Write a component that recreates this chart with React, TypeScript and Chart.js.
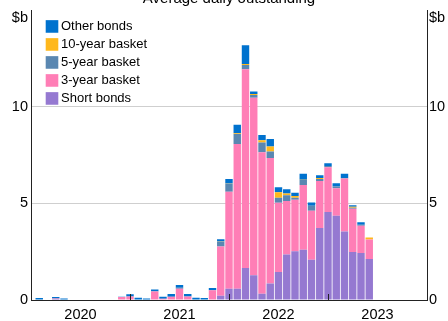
import React, { useEffect, useRef } from 'react';
import { Chart, registerables } from 'chart.js';

Chart.register(...registerables);

// Monthly observations, Jan 2020 – Jun 2023
const months = [
  'Jan 2020', 'Feb 2020', 'Mar 2020', 'Apr 2020', 'May 2020', 'Jun 2020',
  'Jul 2020', 'Aug 2020', 'Sep 2020', 'Oct 2020', 'Nov 2020', 'Dec 2020',
  'Jan 2021', 'Feb 2021', 'Mar 2021', 'Apr 2021', 'May 2021', 'Jun 2021',
  'Jul 2021', 'Aug 2021', 'Sep 2021', 'Oct 2021', 'Nov 2021', 'Dec 2021',
  'Jan 2022', 'Feb 2022', 'Mar 2022', 'Apr 2022', 'May 2022', 'Jun 2022',
  'Jul 2022', 'Aug 2022', 'Sep 2022', 'Oct 2022', 'Nov 2022', 'Dec 2022',
  'Jan 2023', 'Feb 2023', 'Mar 2023', 'Apr 2023', 'May 2023', 'Jun 2023',
];

const yearLabels = ['2020', '2021', '2022', '2023'];
const yTickValues = [0, 5, 10];

const shortBonds = [
  0, 0, 0.02, 0.05, 0, 0, 0, 0, 0, 0, 0, 0,
  0.03, 0.02, 0, 0, 0.02, 0.02, 0.03, 0, 0.02, 0, 0, 0.22,
  0.58, 0.58, 1.66, 1.28, 0.32, 0.86, 1.45, 2.36, 2.53, 2.6, 2.09, 3.73,
  4.55, 4.36, 3.54, 2.48, 2.43, 2.12,
];
const threeYearBasket = [
  0, 0, 0, 0.03, 0, 0, 0, 0, 0, 0, 0, 0.15,
  0.15, 0, 0, 0.44, 0.05, 0.15, 0.55, 0.18, 0, 0, 0.5, 2.55,
  5.03, 7.49, 10.29, 9.19, 7.33, 6.49, 3.58, 2.77, 2.66, 3.35, 2.53, 2.43,
  2.32, 1.42, 2.75, 2.25, 1.42, 1.01,
];
const fiveYearBasket = [
  0, 0, 0, 0, 0, 0, 0, 0, 0, 0, 0, 0,
  0, 0, 0, 0.03, 0, 0, 0.06, 0, 0, 0, 0, 0.24,
  0.41, 0.53, 0.22, 0.14, 0.5, 0.34, 0.26, 0.29, 0.1, 0.26, 0.26, 0.1,
  0.07, 0.09, 0.03, 0.05, 0.05, 0,
];
const tenYearBasket = [
  0, 0, 0, 0, 0, 0, 0, 0, 0, 0, 0, 0,
  0, 0, 0, 0, 0, 0, 0, 0, 0, 0, 0, 0.02,
  0.01, 0.03, 0.05, 0.05, 0.12, 0.26, 0.29, 0.09, 0.09, 0.02, 0, 0.05,
  0, 0, 0, 0.05, 0, 0.1,
];
const otherBonds = [
  0, 0.1, 0, 0.07, 0.08, 0, 0.03, 0.03, 0.03, 0.03, 0, 0.02,
  0.12, 0.1, 0.08, 0.08, 0.1, 0.14, 0.14, 0.13, 0.1, 0.1, 0.12, 0.12,
  0.24, 0.44, 0.97, 0.14, 0.27, 0.39, 0.26, 0.22, 0.17, 0.31, 0.17, 0.15,
  0.14, 0.17, 0.21, 0.07, 0.12, 0,
];

const seriesNames = ['Short bonds', '3-year basket', '5-year basket', '10-year basket', 'Other bonds'];
const seriesData = [shortBonds, threeYearBasket, fiveYearBasket, tenYearBasket, otherBonds];
const seriesColors = ['#9579d1', '#ff7eb6', '#5a87b1', '#ffb81c', '#0072ce'];

const FONT = "'Liberation Sans', Arial, sans-serif";
const MONTHS_SPAN = yearLabels.length * 12;

const overlayPlugin = {
  id: 'overlay',
  afterDatasetsDraw(chart: any) {
    const { ctx, chartArea, scales } = chart;
    const xs = scales.x;
    ctx.save();
    ctx.strokeStyle = '#222';
    ctx.lineWidth = 1;
    months.forEach((m, i) => {
      if (m.startsWith('Jan') && i > 0) {
        const px = Math.round(xs.getPixelForValue(i)) + 0.5;
        ctx.beginPath();
        ctx.moveTo(px, chartArea.bottom);
        ctx.lineTo(px, chartArea.bottom - 6);
        ctx.stroke();
      }
    });
    ctx.restore();
  },
  afterDraw(chart: any) {
    const { ctx, chartArea } = chart;
    ctx.save();
    ctx.fillStyle = '#000';
    // title (mostly cut off at the top in the reference)
    ctx.font = `15px ${FONT}`;
    ctx.textAlign = 'center';
    ctx.textBaseline = 'alphabetic';
    ctx.fillText('Average daily outstanding', (chartArea.left + chartArea.right) / 2, 2.5);
    // units
    ctx.font = `14.5px ${FONT}`;
    ctx.textBaseline = 'middle';
    ctx.textAlign = 'right';
    ctx.fillText('$b', chartArea.left - 3, chartArea.top + 7.5);
    ctx.textAlign = 'left';
    ctx.fillText('$b', chartArea.right + 2, chartArea.top + 7.5);
    // legend
    ctx.font = `13px ${FONT}`;
    const order = chart.data.datasets.map((_: any, i: number) => i).reverse();
    order.forEach((di: number, row: number) => {
      const ds = chart.data.datasets[di];
      const cy = chartArea.top + 16.2 + row * 18;
      ctx.fillStyle = ds.backgroundColor;
      ctx.fillRect(chartArea.left + 14.7, cy - 6.3, 12.6, 12.6);
      ctx.fillStyle = '#000';
      ctx.textAlign = 'left';
      ctx.fillText(ds.label, chartArea.left + 30, cy);
    });
    ctx.restore();
  },
};

export default function App() {
  const canvasRef = useRef<HTMLCanvasElement | null>(null);

  useEffect(() => {
    const canvas = canvasRef.current;
    if (!canvas) return;
    Chart.defaults.font.family = FONT;
    const datasets = seriesNames.map((name, si) => ({
      label: name,
      data: seriesData[si].map((v, i) => ({ x: i, y: v })),
      backgroundColor: seriesColors[si],
      borderWidth: 0,
      barPercentage: 0.9,
      categoryPercentage: 1,
    }));

    const chart = new Chart(canvas, {
      type: 'bar',
      data: { datasets },
      options: {
        animation: false,
        responsive: false,
        devicePixelRatio: 1,
        layout: { padding: { top: 7.5, left: 0, right: 0, bottom: 0 } },
        plugins: {
          legend: { display: false },
          tooltip: { enabled: false },
          title: { display: false },
        },
        scales: {
          x: {
            type: 'linear',
            min: 0,
            max: MONTHS_SPAN,
            offset: false,
            stacked: true,
            z: 1,
            afterBuildTicks: (s: any) => {
              s.ticks = yearLabels.map((_, k) => ({ value: k * 12 + 6 }));
            },
            afterFit: (s: any) => {
              s.height = 21;
              s.paddingLeft = 0;
              s.paddingRight = 0;
            },
            grid: { display: false, drawTicks: false, offset: false },
            border: { display: true, color: '#222', width: 1 },
            ticks: {
              autoSkip: false,
              maxRotation: 0,
              padding: 6,
              color: '#000',
              font: { size: 14.5 },
              callback: (v: any) => {
                const k = (Number(v) - 6) / 12;
                return Number.isInteger(k) ? yearLabels[k] : '';
              },
            },
          },
          y: {
            position: 'left',
            min: 0,
            max: 15,
            stacked: true,
            afterBuildTicks: (s: any) => {
              s.ticks = yTickValues.map((v) => ({ value: v }));
            },
            afterFit: (s: any) => {
              s.width = 31;
            },
            grid: {
              drawTicks: false,
              color: (c: any) => (c.tick && c.tick.value > 0 ? '#cfcfcf' : 'rgba(0,0,0,0)'),
              lineWidth: 1,
            },
            border: { display: true, color: '#222', width: 1 },
            ticks: { padding: 3, color: '#000', font: { size: 14.5, lineHeight: 1 } },
          },
          y2: {
            position: 'right',
            min: 0,
            max: 15,
            afterBuildTicks: (s: any) => {
              s.ticks = yTickValues.map((v) => ({ value: v }));
            },
            afterFit: (s: any) => {
              s.width = 21;
            },
            grid: { display: false, drawTicks: false },
            border: { display: true, color: '#222', width: 1 },
            ticks: { padding: 2, color: '#000', font: { size: 14.5, lineHeight: 1 } },
          },
        },
      } as any,
      plugins: [overlayPlugin],
    });
    return () => chart.destroy();
  }, []);

  return (
    <div style={{ position: 'fixed', left: 0, top: 0, width: 448, height: 321 }}>
      <canvas ref={canvasRef} width={448} height={321} style={{ width: 448, height: 321, display: 'block' }} />
    </div>
  );
}
